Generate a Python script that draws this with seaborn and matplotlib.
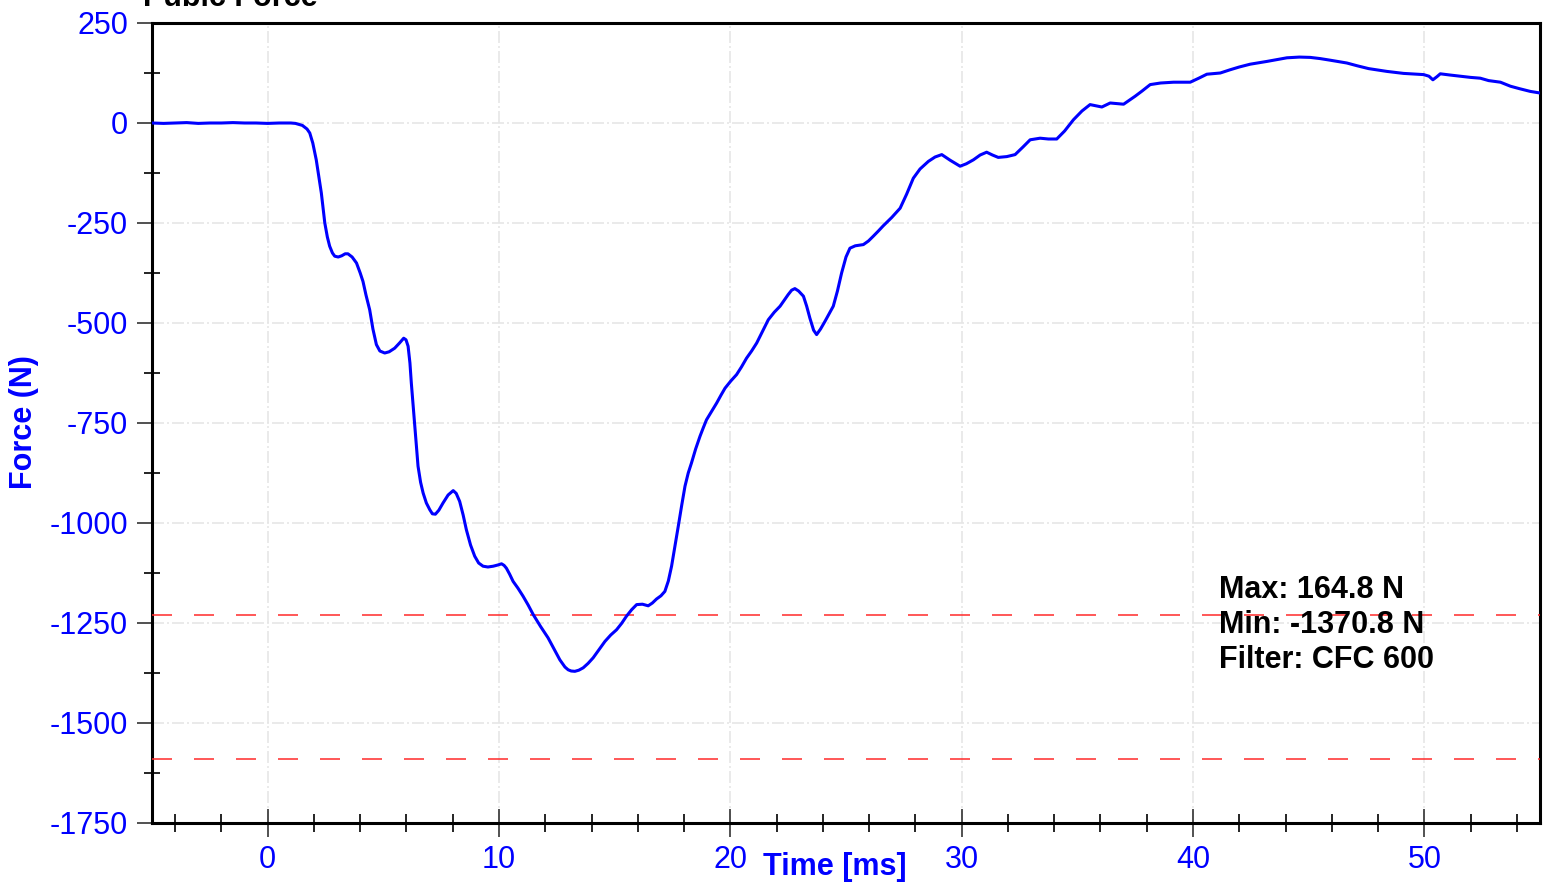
import matplotlib
matplotlib.use("Agg")
import matplotlib.pyplot as plt
from matplotlib.ticker import MultipleLocator
import seaborn as sns
import pandas as pd

# Pubic force time history (CFC 600 filtered)
time_ms = [-5.0, -4.5, -4.0, -3.5, -3.0, -2.5, -2.0, -1.5, -1.0, -0.5, 0.0, 0.5, 1.0,
           1.2, 1.5, 1.7, 1.82, 1.95, 2.1, 2.2, 2.32, 2.47, 2.58, 2.68, 2.8, 2.9,
           3.05, 3.2, 3.35, 3.47, 3.65, 3.84, 4.0, 4.12, 4.25, 4.41, 4.55, 4.70,
           4.85, 5.06, 5.25, 5.49, 5.7, 5.88, 5.98, 6.07, 6.15, 6.21, 6.36, 6.50,
           6.61, 6.72, 6.86, 7.01, 7.12, 7.25, 7.4, 7.58, 7.8, 8.02, 8.15, 8.30,
           8.45, 8.59, 8.77, 8.95, 9.12, 9.31, 9.52, 9.75, 9.95, 10.11, 10.22, 10.32,
           10.46, 10.61, 10.82, 11.04, 11.26, 11.48, 11.8, 12.12, 12.38, 12.63,
           12.85, 12.99, 13.12, 13.28, 13.45, 13.64, 13.85, 14.07, 14.32, 14.58,
           14.83, 15.08, 15.3, 15.51, 15.73, 15.95, 16.2, 16.45, 16.63, 16.81,
           17.0, 17.17, 17.32, 17.46, 17.6, 17.75, 17.9, 18.04, 18.18, 18.32, 18.5,
           18.69, 18.83, 18.97, 19.2, 19.41, 19.6, 19.77, 20.02, 20.27, 20.48,
           20.70, 20.92, 21.14, 21.4, 21.64, 21.9, 22.15, 22.33, 22.50, 22.65,
           22.79, 22.95, 23.16, 23.3, 23.44, 23.6, 23.73, 23.9, 24.09, 24.27,
           24.45, 24.63, 24.81, 25.0, 25.17, 25.4, 25.75, 25.97, 26.18, 26.4,
           26.61, 26.98, 27.34, 27.62, 27.91, 28.2, 28.56, 28.85, 29.14, 29.5,
           29.93, 30.2, 30.51, 30.8, 31.08, 31.33, 31.58, 31.95, 32.31, 32.65,
           32.96, 33.39, 33.75, 34.11, 34.45, 34.83, 35.2, 35.55, 36.06, 36.42,
           37.0, 37.5, 37.8, 38.15, 38.6, 39.16, 39.88, 40.25, 40.6, 41.18, 41.6,
           42.0, 42.47, 43.2, 44.06, 44.6, 45.07, 45.5, 45.93, 46.65, 47.1, 47.59,
           48.38, 49.1, 49.97, 50.2, 50.37, 50.55, 50.69, 51.1, 51.56, 52.0, 52.42,
           52.78, 53.29, 53.72, 54.1, 54.58, 55.0]
force_n = [0, -1, 0, 1, -1, 0, 0, 1, 0, 0, -1, 0, 0,
           -1, -6, -15, -25, -50, -92, -130, -175, -250, -285, -308, -325, -333,
           -335, -332, -327, -327, -335, -350, -375, -396, -430, -467, -515, -554,
           -570, -575, -572, -563, -550, -538, -542, -558, -600, -650, -758, -858,
           -898, -925, -950, -967, -977, -978, -968, -950, -930, -919, -926, -946,
           -980, -1017, -1055, -1083, -1100, -1108, -1110, -1108, -1105, -1102, -1106, -1113,
           -1128, -1146, -1163, -1183, -1205, -1229, -1259, -1287, -1315, -1342,
           -1360, -1367, -1370, -1370.8, -1368, -1362, -1351, -1337, -1317, -1296,
           -1280, -1267, -1251, -1233, -1217, -1204, -1203, -1207, -1200, -1190,
           -1182, -1171, -1145, -1108, -1060, -1008, -955, -908, -875, -850, -815,
           -783, -762, -742, -720, -700, -680, -663, -645, -629, -610,
           -588, -570, -550, -520, -492, -473, -458, -443, -429, -418,
           -414, -420, -433, -458, -488, -518, -529, -515, -496, -477,
           -458, -420, -375, -335, -313, -307, -304, -295, -283, -270,
           -257, -236, -213, -178, -138, -115, -96, -85, -79, -93,
           -108, -102, -92, -80, -73, -80, -86, -84, -79, -60,
           -42, -38, -40, -40, -20, 8, 30, 46, 40, 50,
           47, 67, 80, 96, 100, 102, 102, 112, 122, 125, 133,
           140, 147, 154, 163, 164.8, 164, 161, 157, 150, 143, 136,
           129, 124, 121, 117, 108, 116, 123, 120, 117, 114, 112,
           106, 102, 92, 86, 79, 75]

limit_levels = [-1230, -1590]
peak_max = 164.8
peak_min = -1370.8
filter_class = "CFC 600"

x_major = [0, 10, 20, 30, 40, 50]
y_major = [250, 0, -250, -500, -750, -1000, -1250, -1500, -1750]

sns.set_theme(style="white")
plt.rcParams["font.family"] = ["Liberation Sans", "DejaVu Sans"]
plt.rcParams["lines.scale_dashes"] = False
plt.rcParams["axes.unicode_minus"] = False

BLUE = "#0000ff"
px = 0.72  # points per pixel at 100 dpi

fig = plt.figure(figsize=(15.49, 8.84), dpi=100)
ax = fig.add_axes([152 / 1549, 1 - 823 / 884, (1540 - 152) / 1549, 800 / 884])

df = pd.DataFrame({"Time [ms]": time_ms, "Force (N)": force_n})
sns.lineplot(data=df, x="Time [ms]", y="Force (N)", ax=ax, color=BLUE,
             linewidth=2.2, estimator=None, zorder=4)

for lvl in limit_levels:
    ax.axhline(lvl, color="#ff2a2a", linewidth=1.1, dashes=(20 * px, 22 * px), zorder=3)

ax.set_xlim(-5, 55)
ax.set_ylim(-1750, 250)
ax.set_xticks(x_major)
ax.set_yticks(y_major)
ax.xaxis.set_minor_locator(MultipleLocator(2))
ax.yaxis.set_minor_locator(MultipleLocator(125))

ax.grid(True, which="major", color="#e6e6e6", linewidth=1.2,
        dashes=(12 * px, 3 * px, 2 * px, 3 * px))
ax.set_axisbelow(True)

for s in ax.spines.values():
    s.set_color("black")
    s.set_linewidth(2.2)
    s.set_visible(True)

ax.tick_params(axis="x", which="major", direction="inout", length=28 * px, width=1.2,
               color="#333333", labelsize=22, labelcolor=BLUE, pad=8 * px)
ax.tick_params(axis="x", which="minor", direction="inout", length=18 * px, width=1.2,
               color="black")
ax.tick_params(axis="y", which="major", direction="out", length=15 * px, width=1.2,
               color="#333333", labelsize=22, labelcolor=BLUE, pad=9 * px)
ax.tick_params(axis="y", which="minor", direction="inout", length=16 * px, width=1.2,
               color="black")
ax.tick_params(bottom=True, left=True, top=False, right=False, which="both")

ax.set_xlabel("Time [ms]", fontsize=22, fontweight="bold", color=BLUE)
ax.set_ylabel("Force (N)", fontsize=22, fontweight="bold", color=BLUE)
ax.xaxis.label.set_va("center")
ax.yaxis.label.set_va("center")
ax.xaxis.set_label_coords((835 - 152) / 1388, (823 - 867) / 800)
ax.yaxis.set_label_coords((24 - 152) / 1388, (823 - 422) / 800)

fig.text(143 / 1549, 1 - 6 / 884, "Pubic Force", fontsize=22, fontweight="bold",
         color="black", ha="left", va="baseline")

info = [f"Max: {peak_max:.1f} N", f"Min: {peak_min:.1f} N", f"Filter: {filter_class}"]
for i, line in enumerate(info):
    fig.text(1219 / 1549, 1 - (598 + 35 * i) / 884, line, fontsize=22,
             fontweight="bold", color="black", ha="left", va="baseline")

fig.savefig("out.png", dpi=100)
